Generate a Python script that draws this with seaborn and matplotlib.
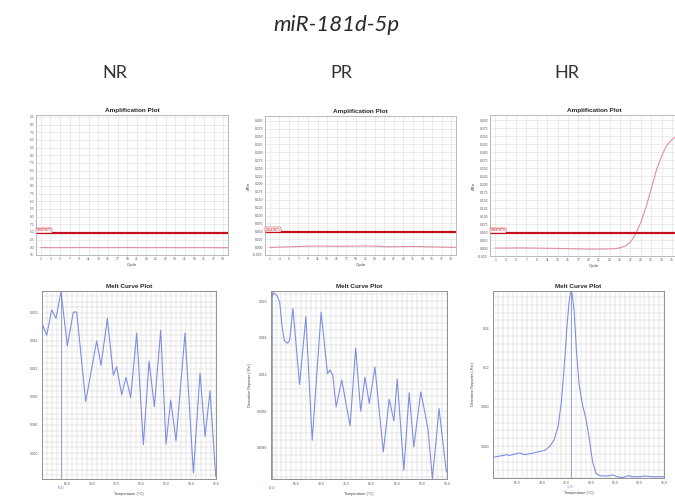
import matplotlib
matplotlib.use("Agg")
import matplotlib.pyplot as plt
import matplotlib.patches as mpatches
from matplotlib.ticker import MultipleLocator, FixedLocator
import numpy as np
import pandas as pd
import seaborn as sns

# ---------------- data ----------------
title = "miR-181d-5p"
groups = ["NR", "PR", "HR"]

cycles = list(range(1, 41))
nr_amp = [-0.0010, -0.0010, -0.0011, -0.0012, -0.0012, -0.0011, -0.0010, -0.0010, -0.0009, -0.0009,
          -0.0010, -0.0011, -0.0012, -0.0012, -0.0011, -0.0010, -0.0010, -0.0009, -0.0009, -0.0010,
          -0.0011, -0.0011, -0.0012, -0.0012, -0.0011, -0.0010, -0.0010, -0.0010, -0.0011, -0.0012,
          -0.0012, -0.0012, -0.0011, -0.0010, -0.0010, -0.0011, -0.0012, -0.0013, -0.0013, -0.0013]
pr_amp = [-0.0010, -0.0005, 0.0000, 0.0005, 0.0010, 0.0015, 0.0020, 0.0025, 0.0030, 0.0030,
          0.0032, 0.0033, 0.0030, 0.0028, 0.0025, 0.0025, 0.0028, 0.0030, 0.0032, 0.0035,
          0.0038, 0.0035, 0.0030, 0.0025, 0.0015, 0.0010, 0.0012, 0.0015, 0.0018, 0.0020,
          0.0020, 0.0018, 0.0015, 0.0010, 0.0008, 0.0005, 0.0000, -0.0003, -0.0005, -0.0008]
hr_amp = [0.0000, 0.0000, 0.0000, 0.0002, 0.0003, 0.0003, 0.0002, 0.0000, -0.0003, -0.0005,
          -0.0008, -0.0010, -0.0013, -0.0016, -0.0020, -0.0023, -0.0026, -0.0030, -0.0032, -0.0033,
          -0.0032, -0.0030, -0.0026, -0.0020, 0.0005, 0.0060, 0.0180, 0.0440, 0.0800, 0.1280,
          0.1850, 0.2440, 0.2880, 0.3220, 0.3400, 0.3520, 0.3600, 0.3660, 0.3700, 0.3730]
threshold = 0.0479
threshold_label = "0.047871"

nr_melt_t = [60.0, 60.94, 61.95, 62.82, 63.82, 65.10, 66.30, 66.98, 68.79, 71.00, 71.87, 73.15,
             74.35, 75.02, 76.03, 76.90, 77.84, 79.05, 80.39, 81.53, 82.60, 83.88, 84.95, 85.89,
             86.96, 88.77, 90.45, 91.79, 92.80, 93.80, 94.94]
nr_melt_v = [0.0185, 0.0168, 0.0204, 0.0192, 0.0230, 0.0153, 0.0201, 0.0201, 0.00734, 0.0160,
             0.0125, 0.0192, 0.0111, 0.0123, 0.0083, 0.0108, 0.0079, 0.0171, 0.00118, 0.0131,
             0.00663, 0.0175, 0.00128, 0.00758, 0.00175, 0.0171, -0.00285, 0.0114, 0.00237,
             0.00886, -0.00332]

pr_melt_t = [60.0, 60.53, 61.19, 61.72, 62.18, 62.64, 63.30, 63.70, 64.36, 65.68, 66.94, 68.19,
             69.97, 71.23, 71.76, 72.29, 72.95, 74.07, 75.72, 76.84, 77.83, 78.69, 79.55, 80.67,
             82.33, 83.51, 84.44, 85.10, 86.42, 87.48, 88.40, 89.79, 90.58, 91.24, 92.10, 93.42,
             94.87]
pr_melt_v = [0.0201, 0.0209, 0.0206, 0.0199, 0.0174, 0.0157, 0.0154, 0.0157, 0.0192, 0.0109,
             0.0183, 0.00482, 0.0188, 0.0121, 0.0125, 0.0119, 0.00846, 0.0114, 0.00639, 0.0149,
             0.00799, 0.0117, 0.00883, 0.0128, 0.00355, 0.00930, 0.00693, 0.0115, 0.00155,
             0.0100, 0.00409, 0.0101, 0.00791, 0.00591, 0.00063, 0.00828, 0.00136]

hr_melt_t = [60.0, 61.03, 62.73, 63.42, 64.44, 65.47, 66.49, 68.20, 69.57, 70.59, 71.62, 72.51,
             73.33, 74.01, 74.70, 75.17, 75.58, 75.86, 76.20, 76.61, 77.09, 77.63, 78.32, 79.00,
             79.69, 80.37, 81.05, 81.87, 83.24, 84.61, 85.63, 86.66, 87.68, 88.71, 90.08, 91.10,
             92.47, 95.0]
hr_melt_v = [0.0285, 0.0295, 0.0312, 0.0305, 0.0319, 0.0329, 0.0312, 0.0329, 0.0346, 0.0356,
             0.0397, 0.0464, 0.0600, 0.0854, 0.1295, 0.1634, 0.1871, 0.1973, 0.1956, 0.1770,
             0.1363, 0.1024, 0.0820, 0.0685, 0.0481, 0.0244, 0.0125, 0.0098, 0.0095, 0.0105,
             0.0085, 0.0081, 0.0098, 0.0088, 0.0088, 0.0095, 0.0088, 0.0088]

tm_values = [63.8, 60.2, 75.9]
tm_labels = ["63.82", "60.20", "75.90"]

nr_melt_ticks = [0.0, 0.004, 0.008, 0.012, 0.016, 0.020]
nr_melt_ticklabels = ["0.0000", "0.0040", "0.0080", "0.012", "0.016", "0.020"]
pr_melt_ticks = [0.004, 0.008, 0.012, 0.016, 0.020]
pr_melt_ticklabels = ["0.0040", "0.0080", "0.012", "0.016", "0.020"]
hr_melt_ticks = [0.04, 0.08, 0.12, 0.16]
hr_melt_ticklabels = ["0.040", "0.080", "0.12", "0.16"]
temp_ticks = [65.0, 70.0, 75.0, 80.0, 85.0, 90.0, 95.0]

# ---------------- style ----------------
sns.set_style("white")
plt.rcParams["font.family"] = ["Liberation Sans", "DejaVu Sans"]

W, H = 675, 497
fig = plt.figure(figsize=(W / 100, H / 100), dpi=100)


def box(l, t, r, b):
    return [l / W, 1 - b / H, (r - l) / W, (b - t) / H]


AMP_COLOR = "#e38d9f"
THR_COLOR = "#c3101c"
MELT_COLOR = "#7d8fe0"
GRID = "#e4e4e4"
MGRID = "#cfcfcf"
TICKFS = 2.4


def amp_panel(pos, values, ylim, ytop, xlim, last_label=39):
    ax = fig.add_axes(box(*pos))
    df = pd.DataFrame({"Cycle": cycles, "dRn": values})
    sns.lineplot(data=df, x="Cycle", y="dRn", ax=ax, color=AMP_COLOR, lw=0.8)
    ax.axhline(threshold, color=THR_COLOR, lw=1.6)
    ax.text(xlim[0] + 0.1, threshold + 0.001, threshold_label, color=THR_COLOR,
            fontsize=2.6, va="bottom", ha="left",
            bbox=dict(facecolor="white", edgecolor=THR_COLOR, lw=0.3, pad=0.3))
    ax.set_xlim(*xlim)
    ax.set_ylim(*ylim)
    xt = list(range(1, 41, 2))
    ax.xaxis.set_major_locator(FixedLocator(xt))
    ax.set_xticklabels([str(c) if c <= last_label else "" for c in xt])
    yt = np.round(np.arange(-0.025, ytop + 0.001, 0.025), 3)
    ax.set_yticks(yt)
    ax.set_yticklabels([f"{v:.3f}" for v in yt])
    ax.grid(True, color=GRID, lw=0.5)
    ax.tick_params(labelsize=TICKFS, length=0, pad=1.5, colors="#555555")
    for s in ax.spines.values():
        s.set_color("#b0b0b0")
        s.set_linewidth(0.6)
    ax.set_xlabel("Cycle", fontsize=3, labelpad=1.5, color="#444444")
    ax.set_ylabel("ΔRn", fontsize=3, labelpad=1.5, color="#444444")
    ax.set_title("Amplification Plot", fontsize=4.6, fontweight="bold", pad=2.5)
    return ax


def melt_panel(pos, t, v, ylim, ticks, ticklabels, tm, tmlab):
    ax = fig.add_axes(box(*pos))
    df = pd.DataFrame({"Temperature": t, "Deriv": v})
    ax.axvline(tm, color="#8a96c8", lw=0.6, zorder=1)
    sns.lineplot(data=df, x="Temperature", y="Deriv", ax=ax, color=MELT_COLOR, lw=0.8, zorder=3)
    ax.set_xlim(60, 95)
    ax.set_ylim(*ylim)
    ax.set_xticks(temp_ticks)
    ax.set_xticklabels([f"{x:.1f}" for x in temp_ticks])
    ax.set_yticks(ticks)
    ax.set_yticklabels(ticklabels)
    step = ticks[1] - ticks[0]
    ax.xaxis.set_minor_locator(MultipleLocator(1.0))
    ax.yaxis.set_minor_locator(MultipleLocator(step / 5))
    ax.grid(True, which="both", color=MGRID, lw=0.35)
    ax.tick_params(labelsize=TICKFS, length=0, pad=2.5, colors="#555555")
    ax.tick_params(which="minor", length=0)
    for s in ax.spines.values():
        s.set_color("#909090")
        s.set_linewidth(0.7)
    ax.set_xlabel("Temperature (°C)", fontsize=2.8, labelpad=4, color="#444444")
    ax.set_ylabel("Derivative Reporter (-Rn')", fontsize=2.8, labelpad=4, color="#444444")
    ax.set_title("Melt Curve Plot", fontsize=4.6, fontweight="bold", pad=2.5)
    ax.annotate(tmlab, xy=(tm, 0), xycoords=("data", "axes fraction"),
                xytext=(0, -5.2), textcoords="offset points", ha="center", va="top",
                fontsize=2.0, color="#6a7fd0")
    return ax


amp_panel((36, 115, 228, 255), nr_amp, (-0.024, 0.431), 0.425, (0, 40))
amp_panel((265, 116, 456, 255), pr_amp, (-0.023, 0.415), 0.400, (0, 40))
amp_panel((490, 115, 698, 256), hr_amp, (-0.025, 0.417), 0.400, (0, 40), last_label=35)

melt_panel((42, 291, 216, 479), nr_melt_t, nr_melt_v, (-0.0037, 0.0231),
           nr_melt_ticks, nr_melt_ticklabels, tm_values[0], tm_labels[0])
melt_panel((271, 291, 447, 479), pr_melt_t, pr_melt_v, (0.0006, 0.0211),
           pr_melt_ticks, pr_melt_ticklabels, tm_values[1], tm_labels[1])
melt_panel((493, 291, 664, 478), hr_melt_t, hr_melt_v, (0.0075, 0.198),
           hr_melt_ticks, hr_melt_ticklabels, tm_values[2], tm_labels[2])

# white strip: source image is cropped on the left
fig.patches.append(mpatches.Rectangle((0, 0), 30 / W, 1, transform=fig.transFigure,
                                      facecolor="white", edgecolor="none", zorder=10))

fig.text(336 / W, 1 - 25 / H, title, fontsize=16, style="italic",
         family=["Lato", "DejaVu Sans"], ha="center", va="center", color="#2a2a2a")
for g, x in zip(groups, [115, 341, 567]):
    fig.text(x / W, 1 - 73 / H, g, fontsize=13, family=["Lato", "DejaVu Sans"],
             ha="center", va="center", color="#333333")

fig.savefig("out.png", dpi=100)
